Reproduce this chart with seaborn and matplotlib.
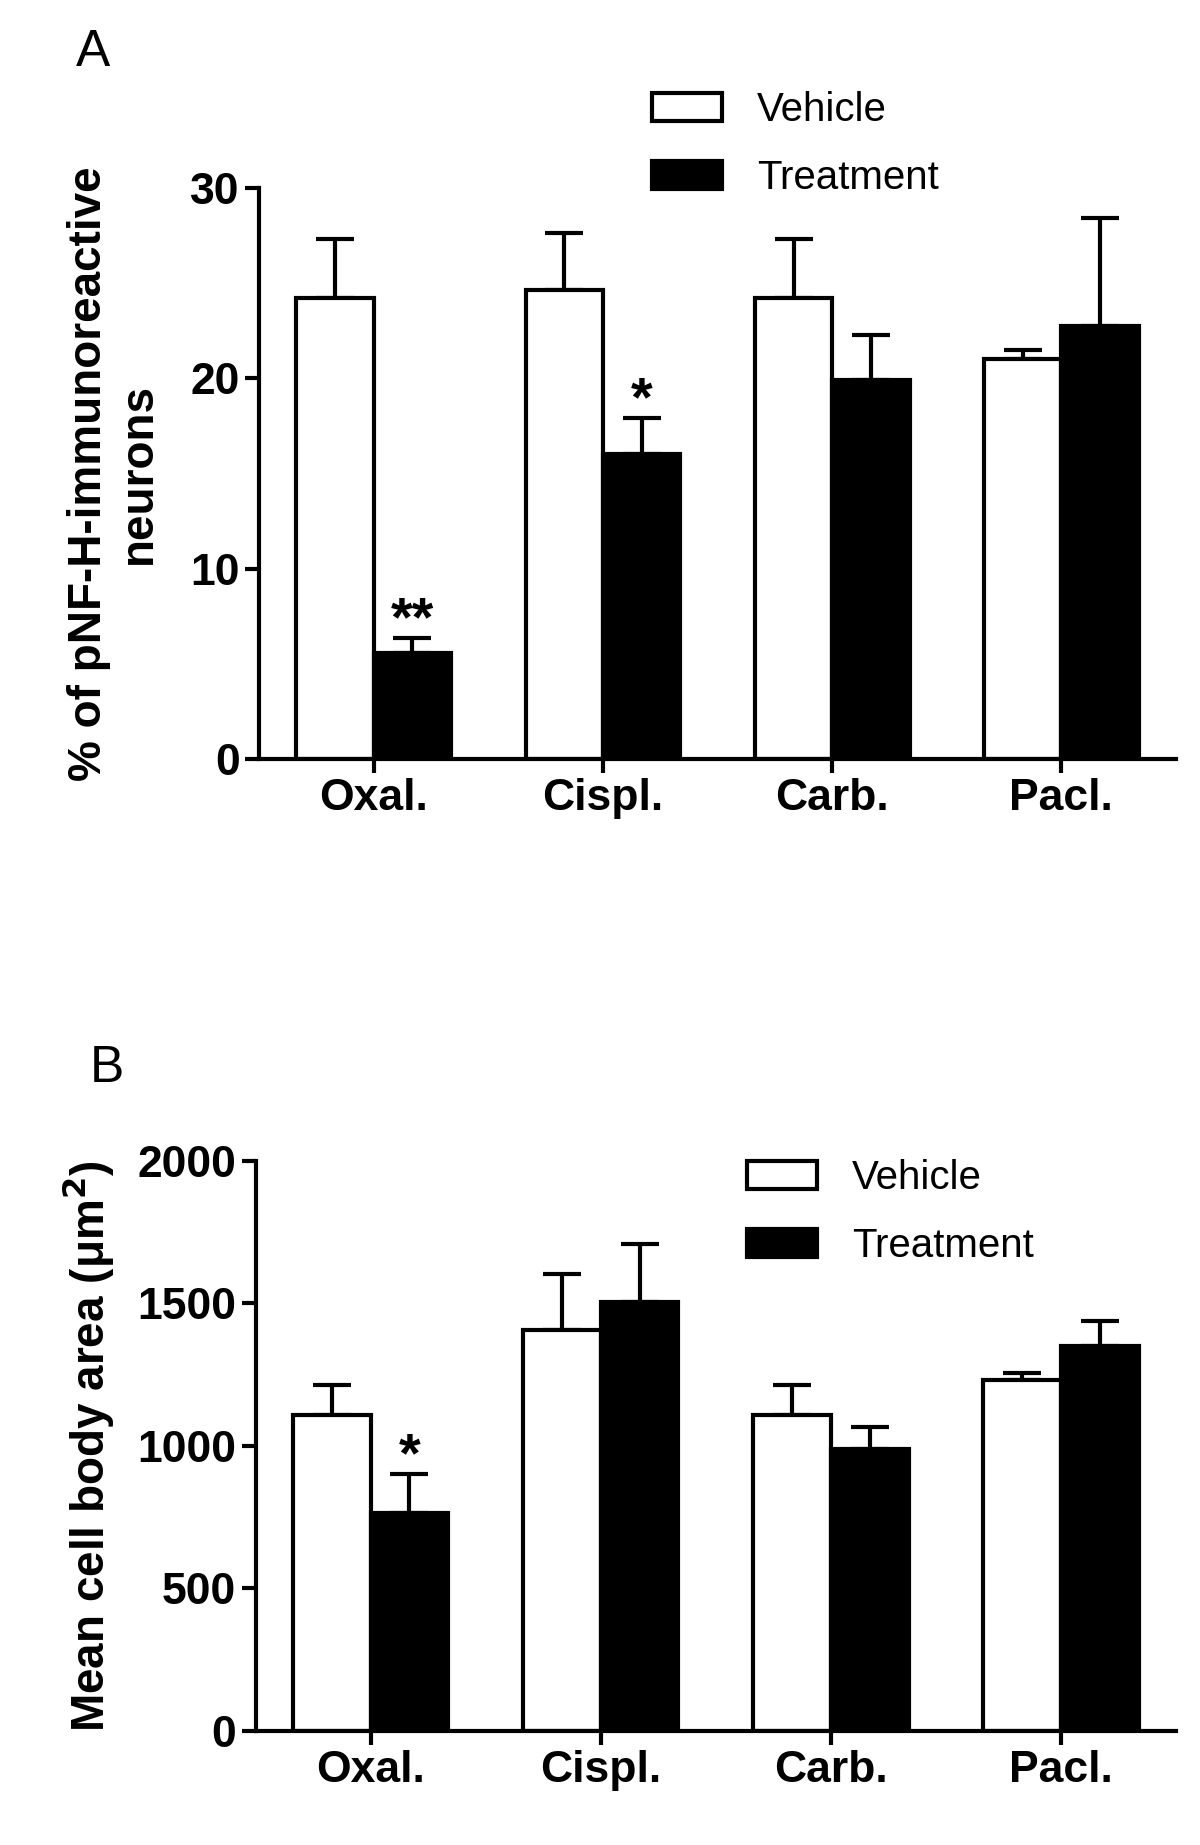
import numpy as np
import pandas as pd
import matplotlib
matplotlib.use('Agg')
import matplotlib.pyplot as plt
import seaborn as sns
from matplotlib.patches import Patch

drugs = ['Oxal.', 'Cispl.', 'Carb.', 'Pacl.']
groups = ['Vehicle', 'Treatment']

# panel A: % of pNF-H-immunoreactive neurons
pnf_vehicle = [24.2, 24.65, 24.2, 21.0]
pnf_vehicle_err = [3.1, 3.0, 3.1, 0.5]
pnf_treatment = [5.55, 16.0, 19.9, 22.75]
pnf_treatment_err = [0.8, 1.9, 2.4, 5.7]
pnf_stars = ['**', '*', '', '']

# panel B: mean cell body area (um^2)
area_vehicle = [1108, 1408, 1108, 1233]
area_vehicle_err = [106, 195, 106, 24]
area_treatment = [766, 1505, 989, 1352]
area_treatment_err = [134, 202, 79, 85]
area_stars = ['*', '', '', '']

sns.set_style('ticks')
plt.rcParams['font.family'] = ['Liberation Sans', 'DejaVu Sans']
plt.rcParams.update({
    'axes.linewidth': 3,
    'axes.edgecolor': 'black',
    'text.color': 'black',
    'axes.labelcolor': 'black',
    'xtick.color': 'black',
    'ytick.color': 'black',
})

fig = plt.figure(figsize=(12, 18.45), dpi=100)


def panel(rect, veh, veh_err, trt, trt_err, stars, ymax, yticks, ylabel, label_x, letter, letter_pos, leg_pos):
    ax = fig.add_axes(rect)
    df = pd.DataFrame({
        'drug': drugs * 2,
        'group': ['Vehicle'] * 4 + ['Treatment'] * 4,
        'value': veh + trt,
    })
    sns.barplot(data=df, x='drug', y='value', hue='group', order=drugs, hue_order=groups,
                palette={'Vehicle': 'white', 'Treatment': 'black'}, saturation=1,
                width=0.675, edgecolor='black', linewidth=3, errorbar=None,
                legend=False, ax=ax, zorder=2)

    errs = [veh_err, trt_err]
    vals = [veh, trt]
    bar_sets = list(ax.containers)
    for i, cont in enumerate(bar_sets):
        xs = [b.get_x() + b.get_width() / 2 for b in cont]
        ax.errorbar(xs, vals[i], yerr=[np.zeros(4), errs[i]], fmt='none', ecolor='black',
                    elinewidth=3, capsize=14, capthick=3, zorder=1)
        if i == 1:
            for x, v, e, s in zip(xs, vals[i], errs[i], stars):
                if s:
                    ax.annotate(s, (x, v + e), xytext=(0, 2), textcoords='offset points',
                                ha='center', va='baseline', fontsize=40, fontweight='bold')

    ax.set_xlim(-0.5, 3.5)
    ax.set_ylim(0, ymax)
    ax.set_yticks(yticks)
    ax.set_xlabel('')
    ax.set_ylabel('')
    sns.despine(ax=ax)
    ax.tick_params(axis='x', length=10, width=3, pad=4, labelsize=32)
    ax.tick_params(axis='y', length=10, width=3, pad=4, labelsize=32)
    plt.setp(ax.get_xticklabels(), fontweight='bold')
    plt.setp(ax.get_yticklabels(), fontweight='bold')

    fig.text(label_x, rect[1] + rect[3] / 2, ylabel, rotation=90, ha='center', va='center',
             fontsize=33, fontweight='bold', multialignment='center', linespacing=1.15)
    fig.text(letter_pos[0], letter_pos[1], letter, fontsize=37, ha='left', va='center')

    handles = [Patch(facecolor='white', edgecolor='black', linewidth=3),
               Patch(facecolor='black', edgecolor='black', linewidth=3)]
    fig.legend(handles, groups, loc='center left', bbox_to_anchor=leg_pos, frameon=False,
               fontsize=29, handlelength=1.75, handleheight=0.7, handletextpad=0.85,
               labelspacing=0.75, borderpad=0, borderaxespad=0)
    return ax


panel([0.216, 0.5886, 0.764, 0.3095], pnf_vehicle, pnf_vehicle_err, pnf_treatment,
      pnf_treatment_err, pnf_stars, 30, [0, 10, 20, 30],
      '% of pNF-H-immunoreactive\nneurons', 114 / 1200, 'A', (76 / 1200, 1 - 52 / 1845),
      (652 / 1200, 1 - 144 / 1845))

panel([0.213, 0.0618, 0.767, 0.309], area_vehicle, area_vehicle_err, area_treatment,
      area_treatment_err, area_stars, 2000, [0, 500, 1000, 1500, 2000],
      'Mean cell body area (\u03bcm$^\\mathbf{2}$)', 88 / 1200, 'B', (90 / 1200, 1 - 1069 / 1845),
      (747 / 1200, 1 - 1212 / 1845))

fig.savefig('out.png', dpi=100)
